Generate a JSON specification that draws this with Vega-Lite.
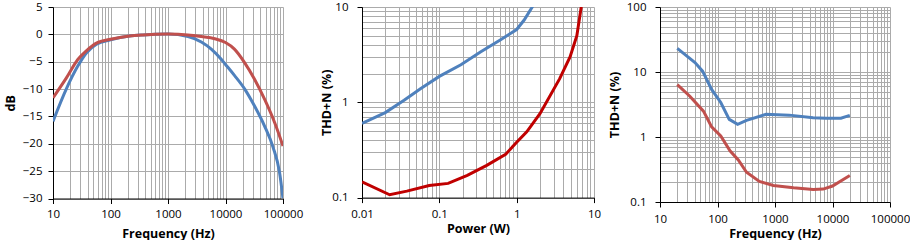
{
  "$schema": "https://vega.github.io/schema/vega-lite/v6.json",
  "padding": {"left": 4, "top": 1, "right": 0, "bottom": 0},
  "background": "white",
  "datasets": {
    "fr": [
      {"f": 10, "v": -15.9, "s": "a"}, {"f": 17, "v": -10, "s": "a"}, {"f": 27, "v": -5.8, "s": "a"},
      {"f": 38, "v": -3.4, "s": "a"}, {"f": 57, "v": -1.8, "s": "a"}, {"f": 100, "v": -1.0, "s": "a"},
      {"f": 214, "v": -0.3, "s": "a"}, {"f": 365, "v": -0.1, "s": "a"}, {"f": 1000, "v": 0.05, "s": "a"},
      {"f": 2230, "v": -0.4, "s": "a"}, {"f": 3800, "v": -1.4, "s": "a"}, {"f": 5660, "v": -2.7, "s": "a"},
      {"f": 8500, "v": -4.6, "s": "a"}, {"f": 10000, "v": -5.5, "s": "a"}, {"f": 14300, "v": -7.5, "s": "a"},
      {"f": 21600, "v": -10, "s": "a"}, {"f": 32000, "v": -13.1, "s": "a"}, {"f": 48000, "v": -16.8, "s": "a"},
      {"f": 67000, "v": -20.6, "s": "a"}, {"f": 87000, "v": -25.2, "s": "a"}, {"f": 100000, "v": -30, "s": "a"},
      {"f": 10, "v": -11.6, "s": "b"}, {"f": 17, "v": -8.0, "s": "b"}, {"f": 27, "v": -4.6, "s": "b"},
      {"f": 38, "v": -3.0, "s": "b"}, {"f": 57, "v": -1.6, "s": "b"}, {"f": 100, "v": -0.9, "s": "b"},
      {"f": 214, "v": -0.3, "s": "b"}, {"f": 365, "v": -0.1, "s": "b"}, {"f": 1000, "v": 0.05, "s": "b"},
      {"f": 2230, "v": -0.1, "s": "b"}, {"f": 3800, "v": -0.4, "s": "b"}, {"f": 6500, "v": -0.8, "s": "b"},
      {"f": 10000, "v": -1.5, "s": "b"}, {"f": 14300, "v": -2.7, "s": "b"}, {"f": 21600, "v": -5.2, "s": "b"},
      {"f": 32000, "v": -8.2, "s": "b"}, {"f": 48000, "v": -11.9, "s": "b"}, {"f": 72000, "v": -16.2, "s": "b"},
      {"f": 100000, "v": -20.4, "s": "b"}
    ],
    "pw": [
      {"p": 0.01, "v": 0.6, "s": "a"}, {"p": 0.02, "v": 0.78, "s": "a"}, {"p": 0.035, "v": 1.05, "s": "a"},
      {"p": 0.057, "v": 1.39, "s": "a"}, {"p": 0.1, "v": 1.87, "s": "a"}, {"p": 0.19, "v": 2.48, "s": "a"},
      {"p": 0.34, "v": 3.37, "s": "a"}, {"p": 0.62, "v": 4.54, "s": "a"}, {"p": 1.0, "v": 5.8, "s": "a"},
      {"p": 1.25, "v": 7.3, "s": "a"}, {"p": 1.65, "v": 10.5, "s": "a"},
      {"p": 0.01, "v": 0.146, "s": "b"}, {"p": 0.0228, "v": 0.107, "s": "b"}, {"p": 0.038, "v": 0.117, "s": "b"},
      {"p": 0.074, "v": 0.134, "s": "b"}, {"p": 0.13, "v": 0.141, "s": "b"}, {"p": 0.23, "v": 0.171, "s": "b"},
      {"p": 0.41, "v": 0.218, "s": "b"}, {"p": 0.72, "v": 0.285, "s": "b"}, {"p": 1.0, "v": 0.38, "s": "b"},
      {"p": 1.35, "v": 0.49, "s": "b"}, {"p": 2.0, "v": 0.76, "s": "b"}, {"p": 3.6, "v": 1.77, "s": "b"},
      {"p": 4.9, "v": 2.99, "s": "b"}, {"p": 6.0, "v": 5.0, "s": "b"}, {"p": 6.9, "v": 10.5, "s": "b"}
    ],
    "thd": [
      {"f": 20, "v": 23.1, "s": "a"}, {"f": 40.6, "v": 14.0, "s": "a"}, {"f": 55, "v": 10.3, "s": "a"},
      {"f": 79, "v": 5.4, "s": "a"}, {"f": 114, "v": 3.4, "s": "a"}, {"f": 160, "v": 1.87, "s": "a"},
      {"f": 224, "v": 1.57, "s": "a"}, {"f": 320, "v": 1.8, "s": "a"}, {"f": 700, "v": 2.23, "s": "a"},
      {"f": 1770, "v": 2.17, "s": "a"}, {"f": 4600, "v": 1.98, "s": "a"}, {"f": 7800, "v": 1.94, "s": "a"},
      {"f": 14000, "v": 1.94, "s": "a"}, {"f": 20000, "v": 2.15, "s": "a"},
      {"f": 20, "v": 6.4, "s": "b"}, {"f": 33, "v": 4.24, "s": "b"}, {"f": 57, "v": 2.5, "s": "b"},
      {"f": 79, "v": 1.43, "s": "b"}, {"f": 114, "v": 1.04, "s": "b"}, {"f": 165, "v": 0.615, "s": "b"},
      {"f": 230, "v": 0.443, "s": "b"}, {"f": 320, "v": 0.287, "s": "b"}, {"f": 535, "v": 0.207, "s": "b"},
      {"f": 935, "v": 0.18, "s": "b"}, {"f": 2100, "v": 0.166, "s": "b"}, {"f": 4600, "v": 0.156, "s": "b"},
      {"f": 6900, "v": 0.158, "s": "b"}, {"f": 10000, "v": 0.176, "s": "b"}, {"f": 20000, "v": 0.255, "s": "b"}
    ]
  },
  "hconcat": [
    {
      "hconcat": [
        {
          "width": 230, "height": 191.5,
          "data": {"name": "fr"},
          "mark": {"type": "line", "strokeWidth": 3, "clip": true, "interpolate": "monotone"},
          "encoding": {
            "x": {"field": "f", "type": "quantitative",
              "scale": {"type": "log", "domain": [10, 100000], "nice": false},
              "axis": {"title": "Frequency (Hz)",
                "values": [10,20,30,40,50,60,70,80,90,100,200,300,400,500,600,700,800,900,1000,2000,3000,4000,5000,6000,7000,8000,9000,10000,20000,30000,40000,50000,60000,70000,80000,90000,100000],
                "labelExpr": "abs(log(datum.value)/LN10 - round(log(datum.value)/LN10)) < 0.001 ? '' + datum.value : ''",
                "tickOpacity": {"condition": {"test": "abs(log(datum.value)/LN10 - round(log(datum.value)/LN10)) < 0.001", "value": 1}, "value": 0}}},
            "y": {"field": "v", "type": "quantitative",
              "scale": {"domain": [-30, 5], "nice": false, "zero": false},
              "axis": {"title": "dB", "values": [-30,-25,-20,-15,-10,-5,0,5], "labelPadding": 6}},
            "color": {"field": "s", "type": "nominal", "legend": null,
              "scale": {"domain": ["a", "b"], "range": ["#4f81bd", "#c0504d"]}}
          }
        },
        {
          "width": 232, "height": 190.6,
          "data": {"name": "pw"},
          "mark": {"type": "line", "strokeWidth": 3, "clip": true},
          "encoding": {
            "x": {"field": "p", "type": "quantitative",
              "scale": {"type": "log", "domain": [0.01, 10], "nice": false},
              "axis": {"title": "Power (W)", "labelPadding": 6, "titlePadding": 2,
                "values": [0.01,0.02,0.03,0.04,0.05,0.06,0.07,0.08,0.09,0.1,0.2,0.3,0.4,0.5,0.6,0.7,0.8,0.9,1,2,3,4,5,6,7,8,9,10],
                "labelExpr": "abs(log(datum.value)/LN10 - round(log(datum.value)/LN10)) < 0.001 ? '' + datum.value : ''",
                "tickOpacity": {"condition": {"test": "abs(log(datum.value)/LN10 - round(log(datum.value)/LN10)) < 0.001", "value": 1}, "value": 0}}},
            "y": {"field": "v", "type": "quantitative",
              "scale": {"type": "log", "domain": [0.1, 10], "nice": false},
              "axis": {"title": "THD+N (%)", "labelPadding": 9, "titlePadding": -2,
                "values": [0.1,0.2,0.3,0.4,0.5,0.6,0.7,0.8,0.9,1,2,3,4,5,6,7,8,9,10],
                "labelExpr": "abs(log(datum.value)/LN10 - round(log(datum.value)/LN10)) < 0.001 ? '' + datum.value : ''",
                "tickOpacity": {"condition": {"test": "abs(log(datum.value)/LN10 - round(log(datum.value)/LN10)) < 0.001", "value": 1}, "value": 0}}},
            "color": {"field": "s", "type": "nominal", "legend": null,
              "scale": {"domain": ["a", "b"], "range": ["#4f81bd", "#c00000"]}}
          }
        }
      ],
      "spacing": 17,
      "resolve": {"scale": {"color": "independent", "x": "independent", "y": "independent"}}
    },
    {
      "width": 230, "height": 195,
      "data": {"name": "thd"},
      "mark": {"type": "line", "strokeWidth": 3, "clip": true},
      "encoding": {
        "x": {"field": "f", "type": "quantitative",
          "scale": {"type": "log", "domain": [10, 100000], "nice": false},
          "axis": {"title": "Frequency (Hz)", "labelPadding": 6.5, "titlePadding": 2,
            "values": [10,20,30,40,50,60,70,80,90,100,200,300,400,500,600,700,800,900,1000,2000,3000,4000,5000,6000,7000,8000,9000,10000,20000,30000,40000,50000,60000,70000,80000,90000,100000],
            "labelExpr": "abs(log(datum.value)/LN10 - round(log(datum.value)/LN10)) < 0.001 ? '' + datum.value : ''",
            "tickOpacity": {"condition": {"test": "abs(log(datum.value)/LN10 - round(log(datum.value)/LN10)) < 0.001", "value": 1}, "value": 0}}},
        "y": {"field": "v", "type": "quantitative",
          "scale": {"type": "log", "domain": [0.1, 100], "nice": false},
          "axis": {"title": "THD+N (%)", "labelPadding": 9, "titlePadding": 5,
            "values": [0.1,0.2,0.3,0.4,0.5,0.6,0.7,0.8,0.9,1,2,3,4,5,6,7,8,9,10,20,30,40,50,60,70,80,90,100],
            "labelExpr": "abs(log(datum.value)/LN10 - round(log(datum.value)/LN10)) < 0.001 ? '' + datum.value : ''",
            "tickOpacity": {"condition": {"test": "abs(log(datum.value)/LN10 - round(log(datum.value)/LN10)) < 0.001", "value": 1}, "value": 0}}},
        "color": {"field": "s", "type": "nominal", "legend": null,
          "scale": {"domain": ["a", "b"], "range": ["#4f81bd", "#c0504d"]}}
      }
    }
  ],
  "spacing": 7,
  "resolve": {"scale": {"color": "independent", "x": "independent", "y": "independent"}},
  "config": {
    "font": "Open Sans",
    "view": {"stroke": null},
    "axis": {
      "domainColor": "#000000", "domainWidth": 1,
      "tickColor": "#000000", "tickSize": 5, "tickWidth": 1,
      "gridColor": "#ababab", "gridWidth": 1,
      "labelColor": "#000000", "labelFont": "Open Sans", "labelFontSize": 11.5,
      "labelFlush": false, "labelOverlap": false,
      "titleColor": "#000000", "titleFont": "Open Sans", "titleFontSize": 12.5, "titleFontWeight": "bold",
      "titlePadding": 5
    },
    "axisX": {"labelPadding": 5, "titlePadding": 7}
  }
}
